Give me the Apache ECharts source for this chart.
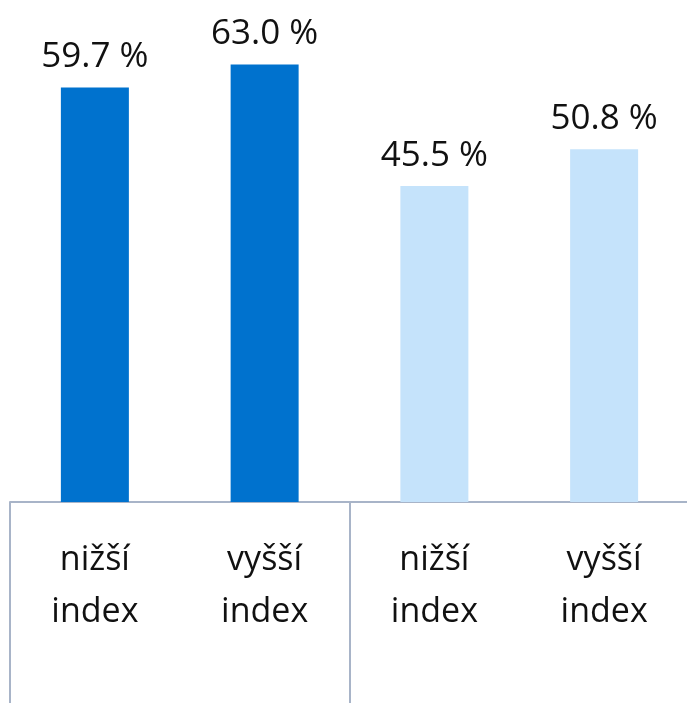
<!DOCTYPE html>
<html>
<head>
<meta charset="utf-8">
<script src="https://cdn.jsdelivr.net/npm/echarts@6/dist/echarts.min.js"></script>
<style>
  html, body { margin: 0; padding: 0; background: #fff; }
  #chart { width: 687px; height: 703px; }
</style>
</head>
<body>
<div id="chart"></div>
<script>
// data
const categories = ['nižší\nindex', 'vyšší\nindex', 'nižší\nindex', 'vyšší\nindex'];
const groups = ['A', 'B'];
const values = [59.7, 63.0, 45.5, 50.8];
const barColors = ['#0072CE', '#0072CE', '#C5E3FB', '#C5E3FB'];

const chart = echarts.init(document.getElementById('chart'));

const option = {
  animation: false,
  grid: { left: 10, width: 679, top: 16, bottom: 201, outerBoundsMode: 'none', containLabel: false },
  xAxis: [
    {
      type: 'category',
      data: categories,
      axisLine: { show: true, lineStyle: { color: '#A8B4C8', width: 2 } },
      axisTick: { show: false },
      axisLabel: {
        color: '#111',
        fontFamily: 'Open Sans',
        fontSize: 34,
        lineHeight: 52,
        margin: 32
      }
    },
    {
      // group separators (two-level axis)
      type: 'category',
      data: groups,
      position: 'bottom',
      axisLine: { show: false },
      axisTick: { show: true, length: 202, lineStyle: { color: '#A8B4C8', width: 2 } },
      axisLabel: { show: false }
    }
  ],
  yAxis: {
    type: 'value',
    min: 0,
    max: 70,
    show: false,
    splitLine: { show: false }
  },
  series: [
    {
      type: 'bar',
      xAxisIndex: 0,
      barWidth: 68,
      data: values.map((v, i) => ({ value: v, itemStyle: { color: barColors[i] } })),
      label: {
        show: true,
        position: 'top',
        distance: 13,
        color: '#111',
        fontFamily: 'Open Sans',
        fontSize: 35,
        formatter: p => p.value.toFixed(1) + ' %'
      }
    }
  ]
};

chart.setOption(option);
</script>
</body>
</html>
